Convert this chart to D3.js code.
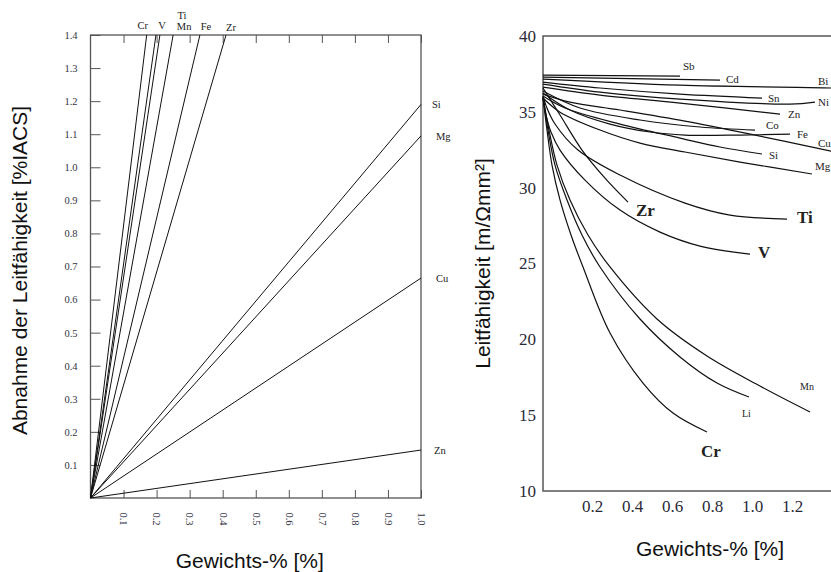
<!DOCTYPE html>
<html>
<head>
<meta charset="utf-8">
<script src="https://cdn.jsdelivr.net/npm/d3@7"></script>
<style>
  html, body { margin: 0; padding: 0; background: #fff; }
  svg { display: block; }
  .serif { font-family: "Liberation Serif", "Times New Roman", serif; }
  .sans { font-family: "Liberation Sans", Arial, sans-serif; }
</style>
</head>
<body>
<svg id="chart" width="831" height="572"></svg>
<script>
// ---------------- DATA ----------------
// Left chart: decrease of conductivity (%IACS) vs wt-% (straight lines from origin)
const leftElements = ["Cr", "V", "Ti", "Mn", "Fe", "Zr", "Si", "Mg", "Cu", "Zn"];
const leftEndWt    = [0.17, 0.198, 0.21, 0.25, 0.331, 0.41, 1.0, 1.0, 1.0, 1.0];
const leftEndDrop  = [1.4, 1.4, 1.4, 1.4, 1.4, 1.4, 1.19, 1.095, 0.665, 0.145];
const leftYTicks   = [0.1,0.2,0.3,0.4,0.5,0.6,0.7,0.8,0.9,1.0,1.1,1.2,1.3,1.4];
const leftXTicks   = [0.1,0.2,0.3,0.4,0.5,0.6,0.7,0.8,0.9,1.0];

// Right chart: conductivity (m/Ωmm²) vs wt-%
const rightElements = ["Sb","Cd","Bi","Sn","Ni","Zn","Co","Fe","Cu","Si","Mg","Zr","Ti","V","Mn","Li","Cr"];
const rightWt = [
  [0, 0.685],
  [0, 0.885],
  [0, 0.685, 1.44, 1.5],
  [0, 0.285, 0.685, 1.095],
  [0, 0.285, 0.685, 1.235, 1.36],
  [0, 0.285, 0.685, 1.185],
  [0, 0.185, 0.485, 0.785, 1.06],
  [0, 0.135, 0.335, 0.535, 0.71, 0.985, 1.235],
  [0, 0.135, 0.385, 0.71, 1.085, 1.44, 1.5],
  [0, 0.11, 0.385, 0.685, 0.885, 1.095],
  [0, 0.085, 0.285, 0.485, 0.71, 0.985, 1.345],
  [0, 0.085, 0.195, 0.31, 0.425],
  [0, 0.02, 0.06, 0.175, 0.385, 0.71, 0.935, 1.22],
  [0, 0.015, 0.04, 0.085, 0.21, 0.385, 0.585, 0.785, 1.035],
  [0, 0.03, 0.07, 0.135, 0.225, 0.335, 0.57, 0.82, 1.085, 1.335],
  [0, 0.025, 0.06, 0.12, 0.195, 0.285, 0.485, 0.685, 0.87, 1.03],
  [0, 0.02, 0.045, 0.085, 0.14, 0.2, 0.335, 0.5, 0.65, 0.82]
];
const rightCond = [
  [37.42, 37.36],
  [37.29, 37.09],
  [37.16, 36.76, 36.57, 36.55],
  [36.96, 36.57, 36.17, 35.91],
  [36.83, 36.3, 35.84, 35.51, 35.64],
  [36.63, 36.1, 35.58, 34.85],
  [36.37, 35.25, 34.46, 34.0, 33.8],
  [36.24, 35.12, 34.19, 33.67, 33.47, 33.47, 33.53],
  [36.17, 35.64, 35.12, 34.39, 33.4, 32.41, 32.25],
  [36.04, 35.25, 34.19, 33.27, 32.68, 32.22],
  [35.91, 34.98, 33.8, 32.94, 32.35, 31.69, 30.9],
  [36.57, 34.79, 32.48, 30.63, 29.05],
  [36.04, 35.25, 34.2, 32.48, 30.83, 28.98, 28.19, 27.93],
  [35.91, 34.79, 33.67, 32.48, 30.5, 28.52, 27.07, 26.15, 25.62],
  [35.97, 33.8, 31.49, 29.19, 26.88, 24.77, 21.34, 18.9, 16.92, 15.21],
  [35.97, 33.8, 31.49, 29.19, 26.88, 24.77, 21.34, 18.84, 17.12, 16.2],
  [35.97, 33.8, 31.49, 29.19, 26.88, 24.77, 20.42, 17.12, 15.14, 13.89]
];
const rightYTicks = [10, 15, 20, 25, 30, 35, 40];
const rightXTicks = [0.2, 0.4, 0.6, 0.8, 1.0, 1.2];

// ---------------- STYLE / LAYOUT ----------------
const leftLabelStyle = {
  Cr:{dx:-4,dy:-6}, V:{dx:6,dy:-6}, Ti:{dx:22,dy:-16}, Mn:{dx:11,dy:-5},
  Fe:{dx:6,dy:-5}, Zr:{dx:5,dy:-4},
  Si:{dx:11,dy:4,start:true}, Mg:{dx:15,dy:4,start:true}, Cu:{dx:15,dy:4,start:true}, Zn:{dx:13,dy:4,start:true}
};
const rightLabelStyle = {
  Sb:{dx:3,dy:-6,size:11}, Cd:{dx:6,dy:3,size:11}, Bi:{dx:-25,dy:-3,size:11},
  Sn:{dx:6,dy:4,size:11}, Ni:{dx:3,dy:4,size:11}, Zn:{dx:8,dy:4,size:11},
  Co:{dx:11,dy:-1,size:11}, Fe:{dx:7,dy:4,size:11}, Cu:{dx:-25,dy:-7,size:11},
  Si:{dx:7,dy:5,size:11}, Mg:{dx:3,dy:-4,size:11},
  Zr:{dx:8,dy:14,size:17,bold:true}, Ti:{dx:10,dy:4,size:17,bold:true},
  V:{dx:8,dy:4,size:17,bold:true}, Mn:{dx:-10,dy:-22,size:10},
  Li:{dx:-7,dy:20,size:10}, Cr:{dx:-6,dy:25,size:17,bold:true}
};

const svg = d3.select("#chart");
svg.append("rect").attr("width", 831).attr("height", 572).attr("fill", "#fff");

// ================= LEFT CHART =================
const xL = d3.scaleLinear().domain([0, 1.0]).range([90.5, 421]);
const yL = d3.scaleLinear().domain([0, 1.4]).range([498, 35]);
const gL = svg.append("g");

const yAxL = gL.append("g").attr("transform", `translate(${xL(0)},0)`)
  .call(d3.axisLeft(yL).tickValues(leftYTicks).tickSize(-10).tickPadding(13).tickFormat(d3.format(".1f")));
const xAxL = gL.append("g").attr("transform", `translate(0,${yL(0)})`)
  .call(d3.axisBottom(xL).tickValues(leftXTicks).tickSize(-8).tickFormat(d3.format(".1f")));
const xAxLTop = gL.append("g").attr("transform", `translate(0,${yL(1.4)})`)
  .call(d3.axisTop(xL).tickValues(leftXTicks).tickSize(-8).tickFormat(""));
[yAxL, xAxL, xAxLTop].forEach(a => {
  a.select(".domain").remove();
  a.selectAll(".tick line").attr("stroke", "#555").attr("stroke-width", 1);
  a.selectAll("text").attr("class", "serif").attr("font-size", 10.5).attr("fill", "#333344").attr("font-family", null);
});
xAxL.selectAll(".tick text")
  .attr("transform", "rotate(90)")
  .attr("y", 0).attr("x", 21).attr("dy", "0.35em")
  .attr("text-anchor", "middle");

gL.append("rect")
  .attr("x", xL(0)).attr("y", yL(1.4))
  .attr("width", xL(1) - xL(0)).attr("height", yL(0) - yL(1.4))
  .attr("fill", "none").attr("stroke", "#555").attr("stroke-width", 1.3);

leftElements.forEach((el, i) => {
  gL.append("line")
    .attr("x1", xL(0)).attr("y1", yL(0))
    .attr("x2", xL(leftEndWt[i])).attr("y2", yL(leftEndDrop[i]))
    .attr("stroke", "#111").attr("stroke-width", 1);
  const st = leftLabelStyle[el];
  gL.append("text").attr("class", "serif")
    .attr("x", xL(leftEndWt[i]) + st.dx).attr("y", yL(leftEndDrop[i]) + st.dy)
    .attr("text-anchor", st.start ? "start" : "middle")
    .attr("font-size", 10.5).attr("fill", "#222")
    .text(el);
});

gL.append("text").attr("class", "sans")
  .attr("transform", `translate(27,${(yL(0) + yL(1.4)) / 2 + 4}) rotate(-90)`)
  .attr("text-anchor", "middle").attr("font-size", 21).attr("fill", "#111")
  .text("Abnahme der Leitfähigkeit [%IACS]");
gL.append("text").attr("class", "sans")
  .attr("x", (xL(0) + xL(1)) / 2 - 6).attr("y", 568)
  .attr("text-anchor", "middle").attr("font-size", 21).attr("fill", "#111")
  .text("Gewichts-% [%]");

// ================= RIGHT CHART =================
const xR = d3.scaleLinear().domain([0, 1.5]).range([543, 843]);
const yR = d3.scaleLinear().domain([10, 40]).range([491, 36]);
const gR = svg.append("g");

const yAxR = gR.append("g").attr("transform", `translate(${xR(0)},0)`)
  .call(d3.axisLeft(yR).tickValues(rightYTicks).tickSize(0).tickPadding(7));
const xAxR = gR.append("g").attr("transform", `translate(0,${yR(10)})`)
  .call(d3.axisBottom(xR).tickValues(rightXTicks).tickSize(0).tickPadding(9).tickFormat(d3.format(".1f")));
[yAxR, xAxR].forEach(a => {
  a.select(".domain").remove();
  a.selectAll("text").attr("class", "serif").attr("font-size", 17).attr("fill", "#2a2a38").attr("font-family", null);
});
xAxR.selectAll(".tick text").attr("dx", 9);

gR.append("path")
  .attr("d", `M${xR(1.5)},${yR(40)}H${xR(0)}V${yR(10)}H${xR(1.5)}`)
  .attr("fill", "none").attr("stroke", "#555").attr("stroke-width", 1.5);

const line = d3.line().x(d => xR(d[0])).y(d => yR(d[1])).curve(d3.curveCatmullRom.alpha(0.5));
rightElements.forEach((el, i) => {
  const pts = rightWt[i].map((w, j) => [w, rightCond[i][j]]);
  gR.append("path").datum(pts)
    .attr("d", line)
    .attr("fill", "none").attr("stroke", "#111").attr("stroke-width", 1.2);
  const last = pts[pts.length - 1];
  const st = rightLabelStyle[el];
  gR.append("text").attr("class", "serif")
    .attr("x", xR(last[0]) + st.dx).attr("y", yR(last[1]) + st.dy)
    .attr("font-size", st.size).attr("font-weight", st.bold ? "bold" : "normal")
    .attr("fill", "#222")
    .text(el);
});

gR.append("text").attr("class", "sans")
  .attr("transform", `translate(490,${(yR(10) + yR(40)) / 2}) rotate(-90)`)
  .attr("text-anchor", "middle").attr("font-size", 21).attr("fill", "#111")
  .text("Leitfähigkeit [m/Ωmm²]");
gR.append("text").attr("class", "sans")
  .attr("x", 710).attr("y", 556)
  .attr("text-anchor", "middle").attr("font-size", 21).attr("fill", "#111")
  .text("Gewichts-% [%]");
</script>
</body>
</html>
